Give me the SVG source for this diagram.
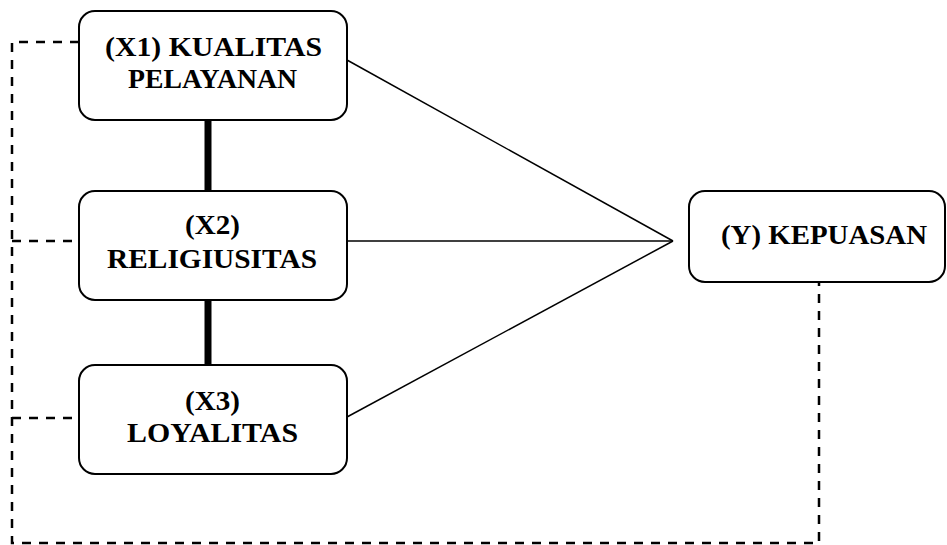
<svg xmlns="http://www.w3.org/2000/svg" width="947" height="545" viewBox="0 0 947 545">
<style>
.box{fill:#fff;stroke:#000;stroke-width:2}
.lbl{font-family:"Liberation Serif","Times New Roman",serif;font-weight:bold;font-size:28px;text-anchor:middle;fill:#000}
.thin{stroke:#000;stroke-width:1.5;fill:none}
.thick{stroke:#000;stroke-width:7;fill:none}
.dash{stroke:#000;stroke-width:2.5;fill:none;stroke-dasharray:9 8}
</style>
<rect width="947" height="545" fill="#fff"/>
<g id="connectors">
<path class="dash" d="M79 42 H12 V543 H819 V282"/>
<path class="dash" d="M12 241 H79"/>
<path class="dash" d="M12 418 H79"/>
<line class="thin" x1="347" y1="60" x2="673" y2="241"/>
<line class="thin" x1="347" y1="241" x2="673" y2="241"/>
<line class="thin" x1="347" y1="417" x2="673" y2="241"/>
<line class="thick" x1="208" y1="120" x2="208" y2="191"/>
<line class="thick" x1="208" y1="300" x2="208" y2="365"/>
</g>
<g id="x1">
<rect class="box" x="79" y="11" width="268" height="109" rx="16"/>
<text class="lbl" x="213.5" y="56" textLength="217" lengthAdjust="spacingAndGlyphs">(X1) KUALITAS</text>
<text class="lbl" x="212.5" y="88" textLength="169" lengthAdjust="spacingAndGlyphs">PELAYANAN</text>
</g>
<g id="x2">
<rect class="box" x="79" y="191" width="268" height="109" rx="16"/>
<text class="lbl" x="212.5" y="234" textLength="55" lengthAdjust="spacingAndGlyphs">(X2)</text>
<text class="lbl" x="212" y="268" textLength="210" lengthAdjust="spacingAndGlyphs">RELIGIUSITAS</text>
</g>
<g id="x3">
<rect class="box" x="79" y="365" width="268" height="109" rx="16"/>
<text class="lbl" x="212.5" y="410" textLength="55" lengthAdjust="spacingAndGlyphs">(X3)</text>
<text class="lbl" x="212.5" y="442" textLength="171" lengthAdjust="spacingAndGlyphs">LOYALITAS</text>
</g>
<g id="y">
<rect class="box" x="689" y="191" width="256" height="91" rx="16"/>
<text class="lbl" x="824" y="244" textLength="206" lengthAdjust="spacingAndGlyphs">(Y) KEPUASAN</text>
</g>
</svg>
